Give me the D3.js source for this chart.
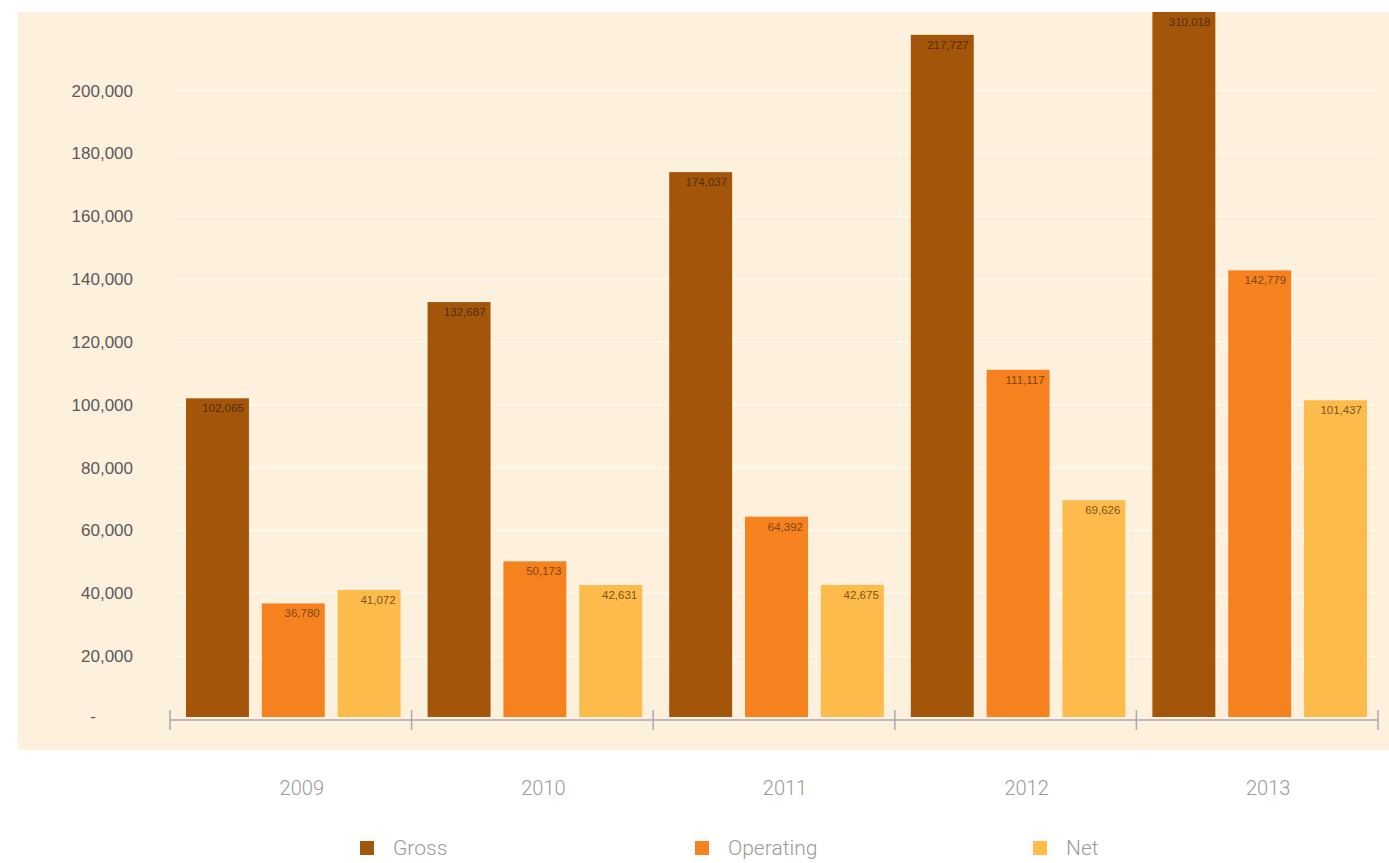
<!DOCTYPE html>
<html>
<head>
<meta charset="utf-8">
<script src="https://cdn.jsdelivr.net/npm/d3@7"></script>
<style>
  html, body { margin: 0; padding: 0; background: #ffffff; }
  svg { display: block; }
</style>
</head>
<body>
<svg id="chart" width="1389" height="863"></svg>
<script>
const years = ["2009", "2010", "2011", "2012", "2013"];
const seriesNames = ["Gross", "Operating", "Net"];
const gross = [102065, 132687, 174037, 217727, 310018];
const operating = [36780, 50173, 64392, 111117, 142779];
const net = [41072, 42631, 42675, 69626, 101437];
const yTicks = [0, 20000, 40000, 60000, 80000, 100000, 120000, 140000, 160000, 180000, 200000];
const colors = ["#A3560A", "#F5821F", "#FCBB4B"];

const seriesValues = [gross, operating, net];
const svg = d3.select("#chart");

// panel
svg.append("rect").attr("x", 18).attr("y", 12).attr("width", 1389 - 18).attr("height", 738)
  .attr("fill", "#FDF0DD");

const x0 = d3.scaleBand().domain(years).range([170, 1378]).padding(0);
const x1 = d3.scaleBand().domain(seriesNames).range([16, x0.bandwidth() - 11]).paddingInner(0.17);
const y = d3.scaleLinear().domain([0, 225000]).range([719, 12]);

// gridlines
svg.append("g").selectAll("line").data(yTicks.filter(d => d > 0)).join("line")
  .attr("x1", 175).attr("x2", 1378)
  .attr("y1", d => y(d)).attr("y2", d => y(d))
  .attr("stroke", "#FFF9F0").attr("stroke-width", 1.5);

// clip
svg.append("clipPath").attr("id", "plotclip").append("rect")
  .attr("x", 0).attr("y", 12).attr("width", 1389).attr("height", 720);

const groups = svg.append("g").attr("clip-path", "url(#plotclip)")
  .selectAll("g").data(years).join("g")
  .attr("transform", d => `translate(${x0(d)},0)`);

groups.selectAll("rect").data((d, i) => seriesNames.map((s, j) => ({ s, v: seriesValues[j][i], j })))
  .join("rect")
  .attr("x", d => x1(d.s))
  .attr("width", x1.bandwidth())
  .attr("y", d => y(d.v))
  .attr("height", d => y(0) - 2 - y(d.v))
  .attr("fill", d => colors[d.j]);

const fmt = d3.format(",");
groups.selectAll("text").data((d, i) => seriesNames.map((s, j) => ({ s, v: seriesValues[j][i], j })))
  .join("text")
  .attr("x", d => x1(d.s) + x1.bandwidth() - 5)
  .attr("y", d => Math.max(y(d.v), 12) + 14)
  .attr("text-anchor", "end")
  .attr("font-family", "Liberation Sans, Arial, sans-serif")
  .attr("font-size", 11.5)
  .attr("fill", d => d.j === 0 ? "#3a1e00" : "#5a3510")
  .attr("fill-opacity", 0.8)
  .text(d => fmt(d.v));

// y axis labels
svg.append("g").selectAll("text").data(yTicks).join("text")
  .attr("x", d => d === 0 ? 93 : 133)
  .attr("y", d => y(d) + (d === 0 ? -3 : 0))
  .attr("dy", "0.35em")
  .attr("text-anchor", d => d === 0 ? "middle" : "end")
  .attr("font-family", "Liberation Sans, Arial, sans-serif")
  .attr("font-size", 17)
  .attr("fill", "#5a5a5a")
  .text(d => d === 0 ? "-" : fmt(d));

// x axis
const xAxis = svg.append("g");
xAxis.append("line").attr("x1", 170).attr("x2", 1378).attr("y1", 720).attr("y2", 720)
  .attr("stroke", "#A9A9B4").attr("stroke-width", 1.5);
const boundaries = years.map(d => x0(d)).concat([x0(years[years.length - 1]) + x0.bandwidth()]);
xAxis.selectAll("line.tk").data(boundaries).join("line").attr("class", "tk")
  .attr("x1", d => d).attr("x2", d => d).attr("y1", 710).attr("y2", 730)
  .attr("stroke", "#A9A9B4").attr("stroke-width", 1.5);

svg.append("g").selectAll("text").data(years).join("text")
  .attr("x", d => x0(d) + x0.bandwidth() / 2 + 11)
  .attr("y", 788)
  .attr("dy", "0.35em")
  .attr("text-anchor", "middle")
  .attr("font-family", "Roboto, sans-serif")
  .attr("font-weight", 300)
  .attr("font-size", 20)
  .attr("fill", "#9a9a9a")
  .text(d => d);

// legend
const legendX = [360, 695, 1033];
const legend = svg.append("g").selectAll("g").data(seriesNames).join("g")
  .attr("transform", (d, i) => `translate(${legendX[i]},841)`);
legend.append("rect").attr("width", 14).attr("height", 14).attr("fill", (d, i) => colors[i]);
legend.append("text").attr("x", 33).attr("y", 7).attr("dy", "0.35em")
  .attr("font-family", "Roboto, sans-serif").attr("font-weight", 300)
  .attr("font-size", 21).attr("fill", "#9a9a9a")
  .text(d => d);
</script>
</body>
</html>
